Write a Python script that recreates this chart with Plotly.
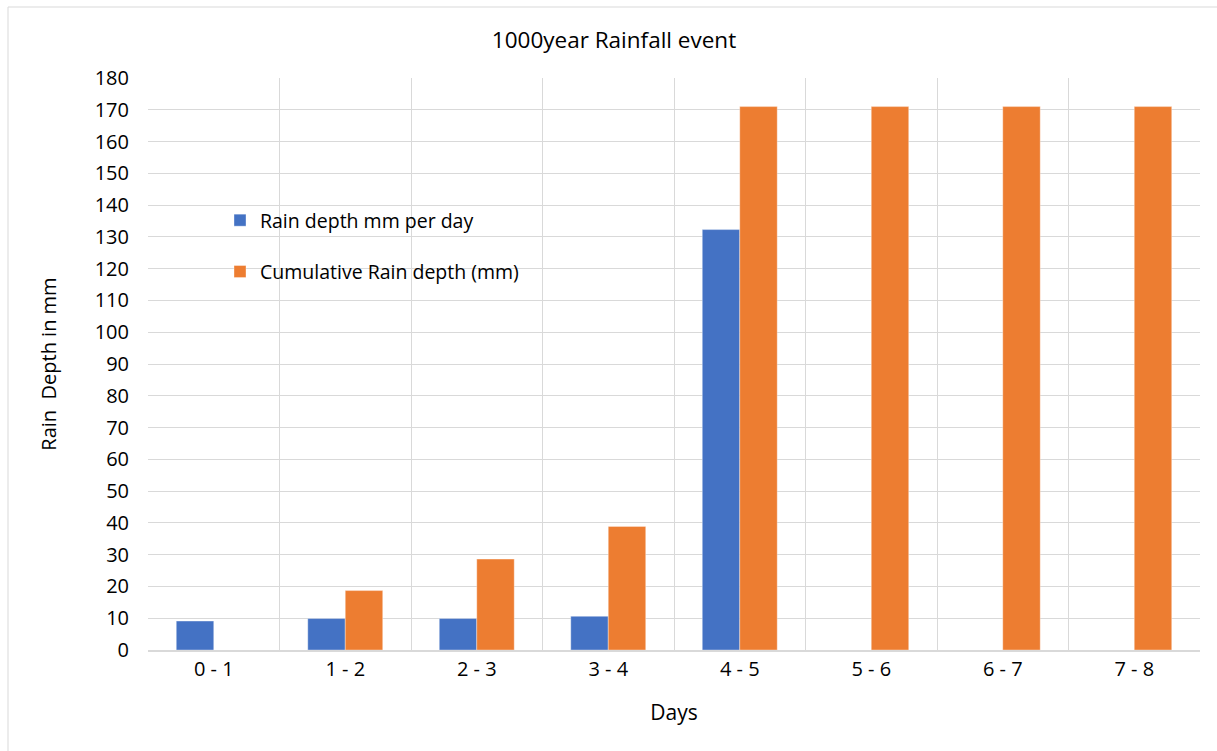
import plotly.graph_objects as go

days = ["0 - 1", "1 - 2", "2 - 3", "3 - 4", "4 - 5", "5 - 6", "6 - 7", "7 - 8"]
rain_per_day = [9.1, 9.9, 9.9, 10.6, 132.3, 0, 0, 0]
cumulative = [0, 18.7, 28.6, 38.9, 171.0, 171.0, 171.0, 171.0]
y_ticks = list(range(0, 181, 10))

FONT = "Open Sans, Noto Sans, sans-serif"
GRID = "#d9d9d9"

fig = go.Figure()
fig.add_trace(go.Bar(
    x=days, y=rain_per_day, name="Rain depth mm per day",
    marker=dict(color="#4472C4", line=dict(color="rgba(255,255,255,0.6)", width=0.6)),
    legendgroup="a",
))
fig.add_trace(go.Bar(
    x=days, y=cumulative, name="Cumulative Rain depth (mm)",
    marker=dict(color="#ED7D31", line=dict(color="rgba(255,255,255,0.6)", width=0.6)),
    legendgroup="b",
))

L, R, T, B = 148, 17, 78, 101
W, H = 1217, 751
pw, ph = W - L - R, H - T - B

fig.update_layout(
    width=W, height=H,
    margin=dict(l=L, r=R, t=T, b=B),
    paper_bgcolor="white", plot_bgcolor="white",
    font=dict(family=FONT, size=20, color="#000000"),
    title=dict(text="1000year Rainfall event", x=(614 - L) / pw, xanchor="center",
               xref="paper", y=1 - 40 / H, yanchor="middle", font=dict(size=22.5)),
    barmode="group", bargap=0.43, bargroupgap=0,
    showlegend=True,
    legend=dict(x=(220 - L) / pw, y=(650 - 201) / ph, xanchor="left", yanchor="top",
                bgcolor="rgba(0,0,0,0)", font=dict(size=19.5), tracegroupgap=23,
                traceorder="grouped", itemwidth=30),
    xaxis=dict(
        type="category", tickson="boundaries", showgrid=True, gridcolor=GRID, gridwidth=1,
        showline=True, linecolor=GRID, linewidth=2, ticks="",
        title=dict(text="Days", font=dict(size=21), standoff=24),
        tickfont=dict(size=20),
    ),
    yaxis=dict(
        range=[0, 180], tickvals=y_ticks, showgrid=True, gridcolor=GRID, gridwidth=1,
        zeroline=False, showline=False, ticks="", ticklabelstandoff=18,
        title=dict(text="Rain  Depth in mm", font=dict(size=20), standoff=32),
        tickfont=dict(size=20),
    ),
    shapes=[dict(type="rect", xref="paper", yref="paper",
                 x0=(8 - L) / pw, x1=(1230 - L) / pw,
                 y0=(650 - 770) / ph, y1=(650 - 7) / ph,
                 line=dict(color=GRID, width=1), layer="below")],
)

fig.write_html("out.html")
